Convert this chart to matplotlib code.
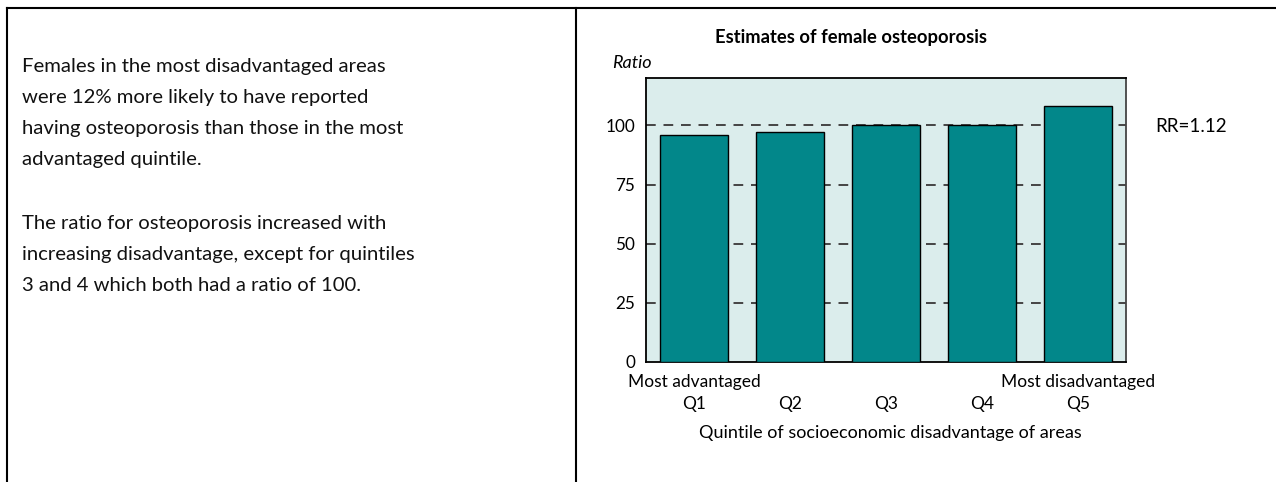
import matplotlib
matplotlib.use("Agg")
import matplotlib.pyplot as plt
from matplotlib.lines import Line2D

quintiles = ["Q1", "Q2", "Q3", "Q4", "Q5"]
extremes = ["Most advantaged", "", "", "", "Most disadvantaged"]
ratios = [96, 97, 100, 100, 108]
yticks = [0, 25, 50, 75, 100]

title = "Estimates of female osteoporosis"
ylabel = "Ratio"
xlabel = "Quintile of socioeconomic disadvantage of areas"
rr_text = "RR=1.12"
para1 = ("Females in the most disadvantaged areas\n"
         "were 12% more likely to have reported\n"
         "having osteoporosis than those in the most\n"
         "advantaged quintile.")
para2 = ("The ratio for osteoporosis increased with\n"
         "increasing disadvantage, except for quintiles\n"
         "3 and 4 which both had a ratio of 100.")

plt.rcParams['font.family'] = ['Lato', 'DejaVu Sans']

W, H = 1276, 482
fig = plt.figure(figsize=(W / 100, H / 100), dpi=100)

# frame lines
fig.add_artist(Line2D([7 / W, 7 / W], [0, 1 - 8 / H], transform=fig.transFigure, color='black', lw=1.5))
fig.add_artist(Line2D([576 / W, 576 / W], [0, 1 - 8 / H], transform=fig.transFigure, color='black', lw=1.5))
fig.add_artist(Line2D([7 / W, 1], [1 - 8 / H, 1 - 8 / H], transform=fig.transFigure, color='black', lw=1.5))

# left paragraph text
fig.text(22 / W, 1 - 58 / H, para1, ha='left', va='top', fontsize=14.6, linespacing=2.0, color='#111111')
fig.text(22 / W, 1 - 215 / H, para2, ha='left', va='top', fontsize=14.6, linespacing=2.0, color='#111111')

ax = fig.add_axes([646 / W, 120 / H, 480 / W, 284 / H])
ax.set_facecolor('#dbedec')
x = list(range(len(quintiles)))
ax.bar(x, ratios, width=0.7, color='#02878a', edgecolor='black', linewidth=1.0, zorder=3)
ax.set_xlim(-0.5, 4.5)
ax.set_ylim(0, 120)
ax.set_yticks(yticks)
ax.set_yticklabels([str(v) for v in yticks], fontsize=12.3)
for v in yticks[1:]:
    ax.axhline(v, color='#444444', lw=1.4, ls=(0, (5, 4)), zorder=1)
ax.set_xticks(x)
ax.set_xticklabels([f"{e}\n{q}" for e, q in zip(extremes, quintiles)], fontsize=12.5, linespacing=1.45)
ax.tick_params(axis='both', length=0)
ax.tick_params(axis='y', pad=8)
ax.tick_params(axis='x', pad=8.5)
for s in ax.spines.values():
    s.set_linewidth(1.3)
    s.set_color('black')
ax.spines['right'].set_color('#444444')

fig.text(851 / W, 1 - 37 / H, title, ha='center', va='center', fontsize=13.2, fontweight='bold')
fig.text(612 / W, 1 - 63 / H, ylabel, ha='left', va='center', fontsize=13, style='italic')
fig.text(890 / W, 1 - 433 / H, xlabel, ha='center', va='center', fontsize=13)
fig.text(1155 / W, 1 - 126 / H, rr_text, ha='left', va='center', fontsize=13.5)

fig.savefig("out.png", dpi=100)
